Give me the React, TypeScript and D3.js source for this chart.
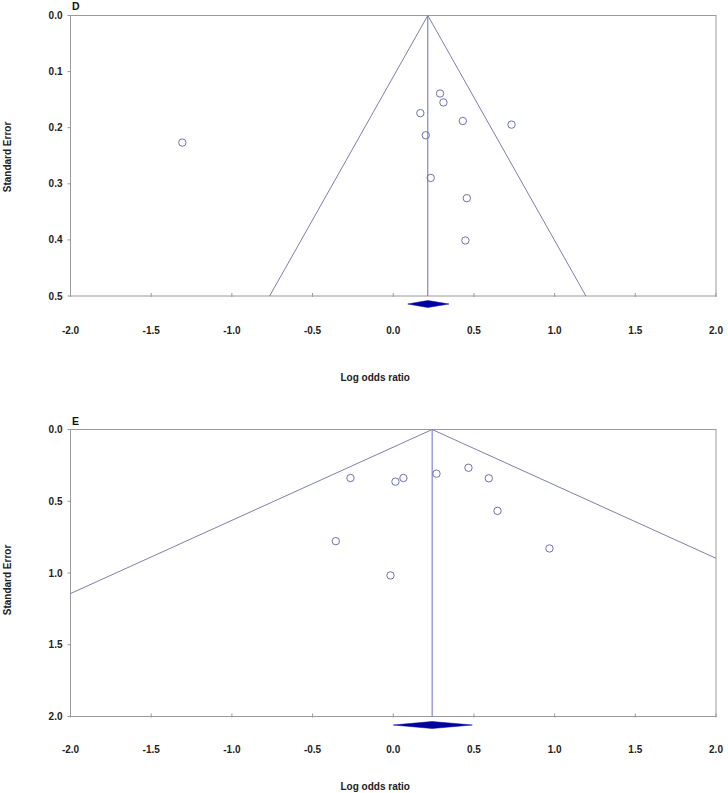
import React from "react";
import * as d3 from "d3";

// Panel D data
const dLogOR = [-1.307, 0.29, 0.311, 0.168, 0.431, 0.733, 0.2015, 0.232, 0.456, 0.447];
const dSE = [0.2265, 0.139, 0.155, 0.174, 0.188, 0.1945, 0.2135, 0.2895, 0.3256, 0.401];
const dSummary = [0.09, 0.214, 0.345]; // lower, estimate, upper
const dYTicks = [0.0, 0.1, 0.2, 0.3, 0.4, 0.5];

// Panel E data
const eLogOR = [-0.265, 0.0136, 0.063, 0.268, 0.466, 0.592, 0.646, 0.968, -0.356, -0.017];
const eSE = [0.338, 0.3635, 0.338, 0.308, 0.2665, 0.34, 0.567, 0.829, 0.778, 1.017];
const eSummary = [0.0, 0.241, 0.49];
const eYTicks = [0.0, 0.5, 1.0, 1.5, 2.0];

const xTicks = [-2.0, -1.5, -1.0, -0.5, 0.0, 0.5, 1.0, 1.5, 2.0];

const FONT = "'Liberation Sans', Arial, sans-serif";

type PanelProps = {
  label: string;
  xs: number[];
  ses: number[];
  summary: number[];
  yTicks: number[];
  top: number;
  bottom: number;
  diamondY: number;
  tickLabelY: number;
  titleY: number;
  labelY: number;
  seLabelY: number;
};

function Panel(p: PanelProps) {
  const left = 70.5;
  const right = 716;
  const x = d3.scaleLinear().domain([-2, 2]).range([left, right]);
  const maxSE = p.yTicks[p.yTicks.length - 1];
  const y = d3.scaleLinear().domain([0, maxSE]).range([p.top, p.bottom]);
  const est = p.summary[1];
  const clipId = "clip-" + p.label;
  const funnel = d3.line<[number, number]>().x((d) => x(d[0])).y((d) => y(d[1]));
  const leftPts: [number, number][] = [
    [est, 0],
    [est - 1.96 * maxSE, maxSE],
  ];
  const rightPts: [number, number][] = [
    [est, 0],
    [est + 1.96 * maxSE, maxSE],
  ];
  const dh = 3.5;
  const diamond = `M${x(p.summary[0])},${p.diamondY} L${x(est)},${p.diamondY - dh} L${x(p.summary[2])},${p.diamondY} L${x(est)},${p.diamondY + dh} Z`;
  return (
    <g>
      <defs>
        <clipPath id={clipId}>
          <rect x={left} y={p.top} width={right - left} height={p.bottom - p.top} />
        </clipPath>
      </defs>
      <rect x={left} y={p.top} width={right - left} height={p.bottom - p.top} fill="white" stroke="#9a9a9a" strokeWidth={1} />
      <g clipPath={`url(#${clipId})`}>
        <path d={funnel(leftPts) || ""} stroke="#7e7eaa" strokeWidth={1} fill="none" />
        <path d={funnel(rightPts) || ""} stroke="#7e7eaa" strokeWidth={1} fill="none" />
      </g>
      <line x1={x(est)} x2={x(est)} y1={y(0)} y2={y(maxSE)} stroke="#6a6ad0" strokeWidth={1} />
      {p.xs.map((v, i) => (
        <circle key={i} cx={x(v)} cy={y(p.ses[i])} r={3.7} fill="none" stroke="#7070b0" strokeWidth={1} />
      ))}
      {p.yTicks.map((t, i) => (
        <g key={"y" + i}>
          <line x1={left - 3} x2={left} y1={y(t)} y2={y(t)} stroke="#9a9a9a" />
          <text x={left - 8} y={y(t)} dy="0.35em" textAnchor="end" fontFamily={FONT} fontWeight="bold" fontSize={10} fill="#222">
            {t.toFixed(1)}
          </text>
        </g>
      ))}
      {xTicks.map((t, i) => (
        <g key={"x" + i}>
          <line x1={x(t)} x2={x(t)} y1={p.bottom - 3} y2={p.bottom + 1} stroke="#9a9a9a" />
          <text x={x(t)} y={p.tickLabelY} dy="0.35em" textAnchor="middle" fontFamily={FONT} fontWeight="bold" fontSize={10} fill="#222">
            {t.toFixed(1)}
          </text>
        </g>
      ))}
      <path d={diamond} fill="#0000a0" stroke="#0000a0" strokeWidth={0.5} />
      <text x={72} y={p.titleY} fontFamily={FONT} fontWeight="bold" fontSize={10.5} fill="#111">
        {p.label}
      </text>
      <text x={(left + right) / 2 - 18} y={p.labelY} dy="0.35em" textAnchor="middle" fontFamily={FONT} fontWeight="bold" fontSize={10} fill="#222">
        Log odds ratio
      </text>
      <text
        transform={`translate(11,${p.seLabelY}) rotate(-90)`}
        textAnchor="middle"
        fontFamily={FONT}
        fontWeight="bold"
        fontSize={10}
        fill="#222"
      >
        Standard Error
      </text>
    </g>
  );
}

export default function App() {
  return (
    <svg width={728} height={793} style={{ position: "absolute", left: 0, top: 0, background: "white" }}>
      <rect x={0} y={0} width={728} height={793} fill="white" />
      <Panel
        label="D"
        xs={dLogOR}
        ses={dSE}
        summary={dSummary}
        yTicks={dYTicks}
        top={15.5}
        bottom={296}
        diamondY={304}
        tickLabelY={330}
        titleY={10}
        labelY={377}
        seLabelY={157}
      />
      <Panel
        label="E"
        xs={eLogOR}
        ses={eSE}
        summary={eSummary}
        yTicks={eYTicks}
        top={429.5}
        bottom={716.5}
        diamondY={725}
        tickLabelY={749}
        titleY={425}
        labelY={786}
        seLabelY={580}
      />
    </svg>
  );
}
